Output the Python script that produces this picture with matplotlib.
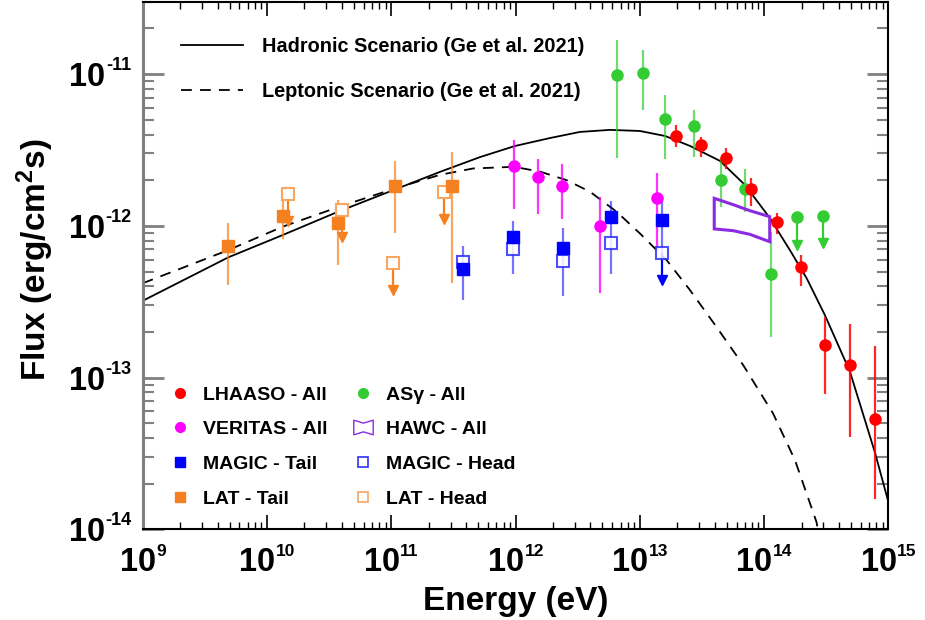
import numpy as np
import matplotlib
matplotlib.use('Agg')
import matplotlib.pyplot as plt
from matplotlib.path import Path
from matplotlib.lines import Line2D
from matplotlib.ticker import LogLocator, NullFormatter

plt.rcParams['font.family'] = ['Liberation Sans', 'DejaVu Sans']
plt.rcParams['font.weight'] = 'bold'
plt.rcParams['mathtext.fontset'] = 'custom'
plt.rcParams['mathtext.rm'] = 'Liberation Sans:bold'
plt.rcParams['mathtext.it'] = 'Liberation Sans:bold'
plt.rcParams['mathtext.bf'] = 'Liberation Sans:bold'
plt.rcParams['mathtext.default'] = 'rm'

# ---------------- data ----------------
# LHAASO - All
lhaaso_E = [1.96e13, 3.10e13, 4.93e13, 7.83e13, 1.26e14, 1.98e14, 3.08e14, 4.90e14, 7.83e14]
lhaaso_F = [3.91e-12, 3.40e-12, 2.79e-12, 1.74e-12, 1.06e-12, 5.34e-13, 1.63e-13, 1.21e-13, 5.32e-14]
lhaaso_lo = [3.30e-12, 2.83e-12, 2.36e-12, 1.35e-12, 8.85e-13, 4.02e-13, 7.81e-14, 4.09e-14, 1.58e-14]
lhaaso_hi = [4.62e-12, 3.83e-12, 3.25e-12, 2.06e-12, 1.22e-12, 6.43e-13, 2.52e-13, 2.26e-13, 1.62e-13]

# AS-gamma - All
asg_E = [6.58e12, 1.06e13, 1.58e13, 2.74e13, 4.49e13, 7.05e13, 1.13e14]
asg_F = [9.86e-12, 1.01e-11, 5.04e-12, 4.55e-12, 2.00e-12, 1.74e-12, 4.80e-13]
asg_lo = [2.79e-12, 5.80e-12, 2.75e-12, 2.86e-12, 1.33e-12, 1.24e-12, 1.86e-13]
asg_hi = [1.69e-11, 1.44e-11, 7.28e-12, 5.80e-12, 2.79e-12, 2.36e-12, 9.16e-13]
asg_ul_E = [1.85e14, 2.96e14]
asg_ul_F = [1.14e-12, 1.16e-12]

# VERITAS - All
ver_E = [9.71e11, 1.51e12, 2.38e12, 4.78e12, 1.37e13]
ver_F = [2.49e-12, 2.09e-12, 1.82e-12, 9.98e-13, 1.52e-12]
ver_lo = [1.29e-12, 1.20e-12, 1.11e-12, 3.63e-13, 6.94e-13]
ver_hi = [3.68e-12, 2.75e-12, 2.56e-12, 1.56e-12, 2.22e-12]

# MAGIC - Tail
mt_E = [3.80e11, 9.48e11, 2.39e12, 5.89e12, 1.51e13]
mt_F = [5.20e-13, 8.41e-13, 7.12e-13, 1.14e-12, 1.09e-12]
mt_lo = [3.25e-13, 4.80e-13, 3.45e-13, 4.80e-13, 6.63e-13]
mt_hi = [7.41e-13, 1.08e-12, 9.64e-13, 1.46e-12, 1.48e-12]

# MAGIC - Head
mh_E = [3.80e11, 9.48e11, 2.39e12, 5.89e12]
mh_F = [5.75e-13, 7.01e-13, 5.90e-13, 7.72e-13]
mh_ul_E = [1.51e13]
mh_ul_F = [6.63e-13]

# LAT - Tail
lt_E = [4.88e9, 1.34e10, 3.75e10, 1.08e11, 3.06e11]
lt_F = [7.37e-13, 1.16e-12, 1.05e-12, 1.83e-12, 1.83e-12]
lt_lo = [4.08e-13, 8.16e-13, 5.52e-13, 9.02e-13, 4.19e-13]
lt_hi = [1.04e-12, 1.47e-12, 1.47e-12, 2.68e-12, 3.05e-12]

# LAT - Head (upper limits)
lh_ul_E = [1.48e10, 3.99e10, 1.04e11, 2.67e11]
lh_ul_F = [1.62e-12, 1.27e-12, 5.72e-13, 1.67e-12]

# HAWC - All (butterfly)
hawc_E = [3.97e13, 5.64e13, 7.67e13, 1.11e14]
hawc_hi = [1.52e-12, 1.38e-12, 1.26e-12, 1.15e-12]
hawc_lo = [9.55e-13, 9.30e-13, 8.80e-13, 7.87e-13]

# Models (Ge et al. 2021)
had_E = [1e9, 4.89e9, 1.34e10, 3.75e10, 1.08e11, 2.47e11, 5.18e11, 9.89e11, 1.89e12,
         3.30e12, 5.75e12, 1.00e13, 1.60e13, 2.54e13, 4.42e13, 7.02e13, 1.11e14,
         1.61e14, 2.20e14, 3.08e14, 4.90e14, 7.83e14, 9.95e14]
had_F = [3.21e-13, 6.21e-13, 8.71e-13, 1.242e-12, 1.742e-12, 2.27e-12, 2.84e-12, 3.36e-12,
         3.79e-12, 4.16e-12, 4.29e-12, 4.22e-12, 3.91e-12, 3.36e-12, 2.68e-12, 1.86e-12,
         1.13e-12, 6.94e-13, 4.52e-13, 2.59e-13, 1.10e-13, 3.18e-14, 1.54e-14]
lep_E = [1.0e9, 4.89e9, 1.34e10, 3.75e10, 1.08e11, 2.47e11, 4.57e11, 9.70e11, 1.57e12,
         2.58e12, 3.97e12, 6.50e12, 1.00e13, 1.64e13, 2.53e13, 4.09e13, 6.79e13, 1.18e14,
         1.77e14, 2.64e14, 2.71e14]
lep_F = [4.19e-13, 6.93e-13, 9.89e-13, 1.33e-12, 1.77e-12, 2.17e-12, 2.39e-12, 2.45e-12,
         2.28e-12, 2.00e-12, 1.68e-12, 1.24e-12, 8.93e-13, 5.96e-13, 3.78e-13, 2.19e-13,
         1.21e-13, 5.82e-14, 2.87e-14, 1.12e-14, 1.0e-14]

x_tick_exps = [9, 10, 11, 12, 13, 14, 15]
y_tick_exps = [-14, -13, -12, -11]

legend_labels = ['LHAASO - All', 'VERITAS - All', 'MAGIC - Tail', 'LAT - Tail',
                 'AS\u03b3 - All', 'HAWC - All', 'MAGIC - Head', 'LAT - Head']
model_labels = ['Hadronic Scenario (Ge et al. 2021)', 'Leptonic Scenario (Ge et al. 2021)']

# ---------------- style ----------------
C_LHAASO = '#ff0000'
C_ASG = '#33cc33'
C_VER = '#ff00ff'
C_MAGIC = '#0000ff'
C_MAGIC_H = '#3030ff'
C_LAT = '#f5801f'
C_LAT_H = '#f8a660'
C_HAWC = '#8a2be2'
ARROW_DEX = 0.18
PX = 0.72  # points per pixel at 100 dpi

fig = plt.figure(figsize=(9.25, 6.2), dpi=100)
ax = fig.add_axes([0.1543, 0.1460, 0.8061, 0.8513])
ax.set_xscale('log')
ax.set_yscale('log')
ax.set_xlim(1e9, 1e15)
ax.set_ylim(1e-14, 3.0e-11)

# model curves
ax.plot(had_E, had_F, color='black', lw=1.3, zorder=2)
ax.plot(lep_E, lep_F, color='black', lw=1.3, ls=(0, (6, 4.5)), zorder=2)


def ebar(E, F, lo, hi, color, alpha=0.75, lw=1.6):
    E = np.asarray(E); F = np.asarray(F)
    ax.errorbar(E, F, yerr=[F - np.asarray(lo), np.asarray(hi) - F], fmt='none',
                ecolor=color, elinewidth=lw, alpha=alpha, capsize=0, zorder=3)


def ularrow(E, F, color, lw=1.6):
    E = np.asarray(E); F = np.asarray(F)
    tip = F * 10 ** (-ARROW_DEX)
    ax.vlines(E, tip, F, colors=color, lw=lw, zorder=3)
    ax.plot(E, tip, ls='none', marker='v', color=color, ms=7.5, zorder=4)


# LAT
ebar(lt_E, lt_F, lt_lo, lt_hi, C_LAT, alpha=0.7)
ularrow(lh_ul_E, lh_ul_F, C_LAT)
ax.plot(lh_ul_E, lh_ul_F, ls='none', marker='s', ms=8, mfc='white', mec=C_LAT_H, mew=1.5, zorder=5)
ax.plot(lt_E, lt_F, ls='none', marker='s', ms=8.5, color=C_LAT, zorder=5)

# MAGIC
ebar(mt_E, mt_F, mt_lo, mt_hi, C_MAGIC, alpha=0.55)
ularrow(mh_ul_E, mh_ul_F, C_MAGIC)
ax.plot(mh_E + mh_ul_E, mh_F + mh_ul_F, ls='none', marker='s', ms=8, mfc='white',
        mec=C_MAGIC_H, mew=1.5, alpha=0.85, zorder=5)
ax.plot(mt_E, mt_F, ls='none', marker='s', ms=8.5, color=C_MAGIC, zorder=6)

# VERITAS
ebar(ver_E, ver_F, ver_lo, ver_hi, C_VER, alpha=0.8)
ax.plot(ver_E, ver_F, ls='none', marker='o', ms=8, color=C_VER, zorder=6)

# HAWC butterfly
ax.fill(hawc_E + hawc_E[::-1], hawc_hi + hawc_lo[::-1], facecolor='none',
        edgecolor=C_HAWC, lw=2.2, zorder=4)

# AS-gamma
ebar(asg_E, asg_F, asg_lo, asg_hi, C_ASG, alpha=0.7)
ularrow(asg_ul_E, asg_ul_F, C_ASG)
ax.plot(asg_E + asg_ul_E, asg_F + asg_ul_F, ls='none', marker='o', ms=8, color=C_ASG, zorder=6)

# LHAASO
ebar(lhaaso_E, lhaaso_F, lhaaso_lo, lhaaso_hi, C_LHAASO, alpha=0.85)
ax.plot(lhaaso_E, lhaaso_F, ls='none', marker='o', ms=8, color=C_LHAASO, zorder=7)

# ---------------- axes ----------------
for axis in (ax.xaxis, ax.yaxis):
    axis.set_major_locator(LogLocator(base=10, numticks=20))
    axis.set_minor_locator(LogLocator(base=10, subs=np.arange(2, 10), numticks=20))
    axis.set_major_formatter(NullFormatter())
    axis.set_minor_formatter(NullFormatter())

ax.tick_params(axis='x', which='both', direction='in', top=True, bottom=True, color='black')
ax.tick_params(axis='x', which='major', length=10, width=1.2)
ax.tick_params(axis='x', which='minor', length=5, width=1.0)
ax.tick_params(axis='y', which='both', direction='in', left=True, right=True, color='#808080')
ax.tick_params(axis='y', which='major', length=15, width=2)
ax.tick_params(axis='y', which='minor', length=8, width=1.5)

for s in ('top', 'right', 'bottom'):
    ax.spines[s].set_color('black')
    ax.spines[s].set_linewidth(1.5)
ax.spines['left'].set_color('#808080')
ax.spines['left'].set_linewidth(2.2)

# tick labels "10" with a small superscript exponent
MAIN_FS = 23.5
SUP_FS = 12.5
W_DIGIT = 0.556
W_MINUS = 0.333


def sup_width(s):
    return sum(W_MINUS if c == '-' else W_DIGIT for c in s) * SUP_FS


w10 = 2 * W_DIGIT * MAIN_FS
for k in x_tick_exps:
    s = str(k)
    total = w10 + sup_width(s)
    join = -total / 2 + w10
    ax.annotate('10', xy=(10.0 ** k, 0), xycoords=('data', 'axes fraction'),
                xytext=(join, -42 * PX), textcoords='offset points',
                ha='right', va='baseline', fontsize=MAIN_FS, fontweight='bold',
                annotation_clip=False)
    ax.annotate(s, xy=(10.0 ** k, 0), xycoords=('data', 'axes fraction'),
                xytext=(join + 0.3, -27 * PX), textcoords='offset points',
                ha='left', va='baseline', fontsize=SUP_FS, fontweight='bold',
                annotation_clip=False)
for k in y_tick_exps:
    s = str(k)
    right = -11 * PX
    ax.annotate(s, xy=(0, 10.0 ** k), xycoords=('axes fraction', 'data'),
                xytext=(right, 4 * PX), textcoords='offset points',
                ha='right', va='baseline', fontsize=SUP_FS + 0.5, fontweight='bold',
                annotation_clip=False)
    ax.annotate('10', xy=(0, 10.0 ** k), xycoords=('axes fraction', 'data'),
                xytext=(right - sup_width(s) - 1.0, -12 * PX), textcoords='offset points',
                ha='right', va='baseline', fontsize=MAIN_FS, fontweight='bold',
                annotation_clip=False)

ax.set_xlabel('Energy (eV)', fontsize=24, fontweight='bold')
ax.set_ylabel(r'Flux (erg/cm$^{2}$s)', fontsize=24, fontweight='bold')
ax.xaxis.set_label_coords(0.5007, -0.108)
ax.yaxis.set_label_coords(-0.116, 0.511)

# ---------------- legends ----------------
mh = [Line2D([], [], color='black', lw=1.3),
      Line2D([], [], color='black', lw=1.3, ls=(0, (6, 4.5)))]
leg1 = ax.legend(mh, model_labels, loc='upper left', bbox_to_anchor=(0.0514, 0.934),
                 frameon=False, prop={'weight': 'bold', 'size': 14.3}, handlelength=3.1,
                 handletextpad=1.0, labelspacing=1.33, borderpad=0, borderaxespad=0)
ax.add_artist(leg1)

bow = Path([(-1.0, 0.75), (0.0, 0.45), (1.0, 0.75), (1.0, -0.75), (0.0, -0.45),
            (-1.0, -0.75), (-1.0, 0.75)],
           [Path.MOVETO] + [Path.LINETO] * 5 + [Path.CLOSEPOLY])
handles = [
    Line2D([], [], ls='none', marker='o', color=C_LHAASO, ms=7),
    Line2D([], [], ls='none', marker='o', color=C_VER, ms=7),
    Line2D([], [], ls='none', marker='s', color=C_MAGIC, ms=7),
    Line2D([], [], ls='none', marker='s', color=C_LAT, ms=7),
    Line2D([], [], ls='none', marker='o', color=C_ASG, ms=7),
    Line2D([], [], ls='none', marker=bow, mfc='none', mec=C_HAWC, ms=14, mew=1.0),
    Line2D([], [], ls='none', marker='s', mfc='white', mec=C_MAGIC_H, ms=7, mew=1.2),
    Line2D([], [], ls='none', marker='s', mfc='white', mec=C_LAT_H, ms=7, mew=1.2),
]
leg2 = ax.legend(handles, legend_labels, ncol=2, loc='upper left',
                 bbox_to_anchor=(0.037, 0.272), frameon=False,
                 prop={'weight': 'bold', 'size': 14}, handlelength=1.0,
                 handletextpad=0.7, columnspacing=1.3, labelspacing=0.88,
                 borderpad=0, borderaxespad=0)

fig.savefig('out.png', dpi=100)
